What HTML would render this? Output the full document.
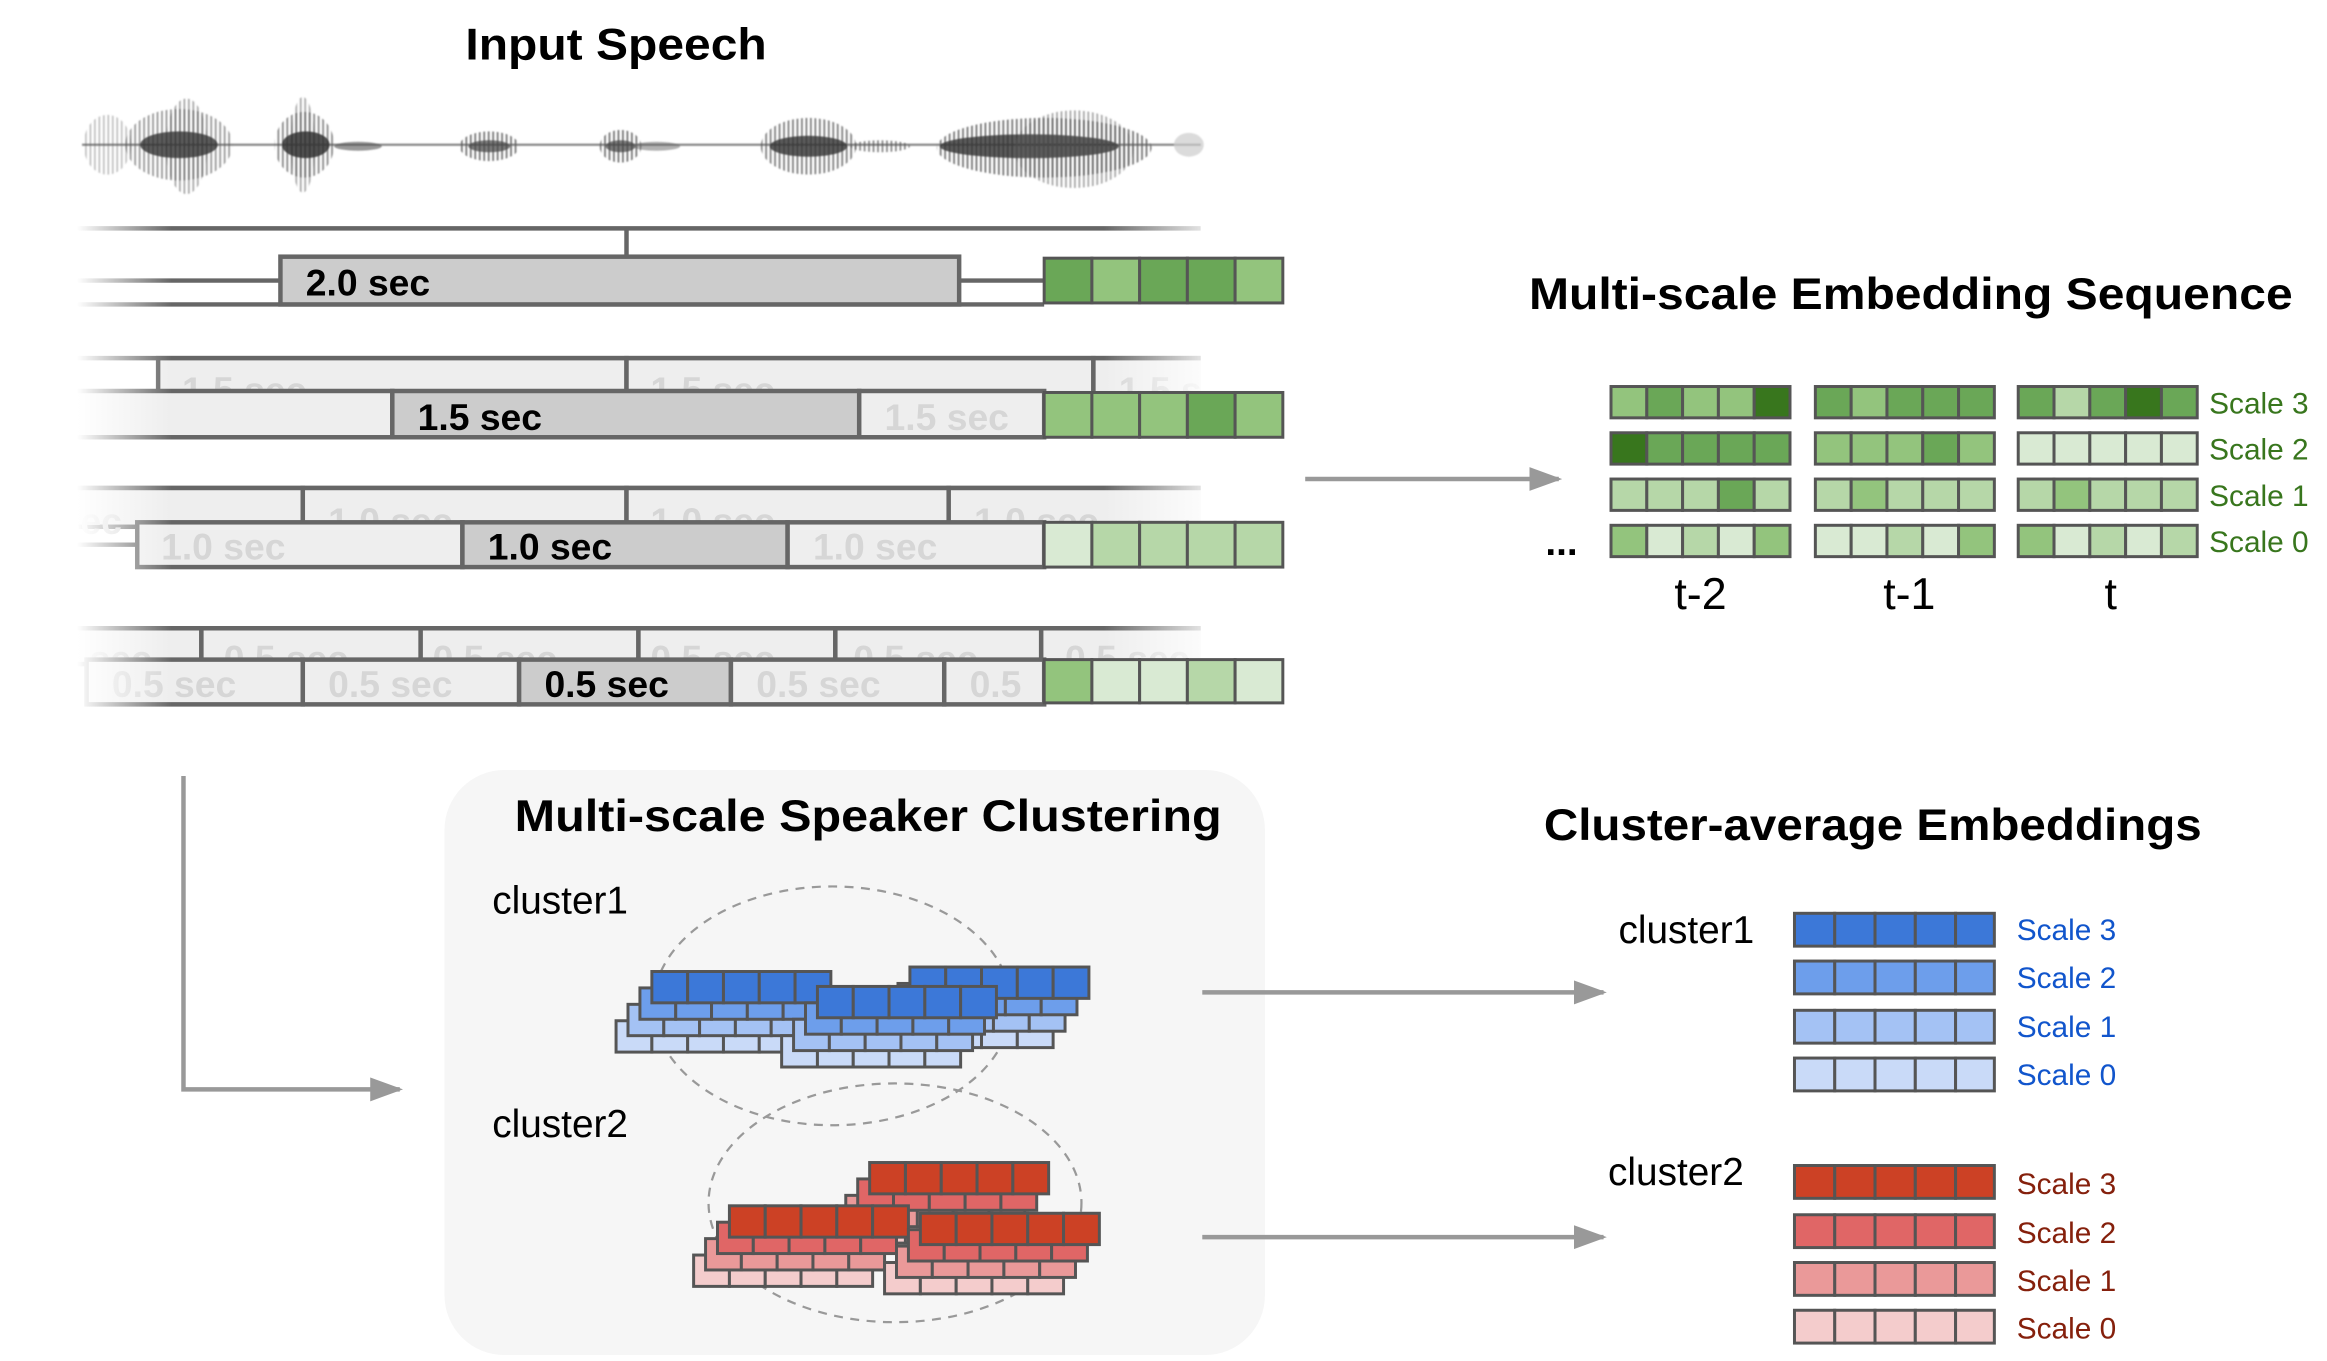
<!DOCTYPE html>
<html><head><meta charset="utf-8"><style>
html,body{margin:0;padding:0;background:#fff;}
svg{display:block;}
text{font-family:"Liberation Sans",sans-serif;}
.t{font-weight:bold;font-size:30px;fill:#000;}
.sec{font-weight:bold;font-size:25px;fill:#000;}
.fs{font-weight:bold;font-size:25px;fill:#d6d6d6;}
.c rect{stroke:#555;stroke-width:2;}
.sg{font-size:20px;fill:#38761d;}
.sb{font-size:20px;fill:#1155cc;}
.sr{font-size:20px;fill:#85200c;}
.lb{font-size:26px;fill:#000;}
</style></head><body>
<svg width="2327" height="1361" viewBox="0 0 1560 912" preserveAspectRatio="none" xmlns="http://www.w3.org/2000/svg">
<defs>
<filter id="bl" x="-10%" y="-50%" width="120%" height="200%"><feGaussianBlur stdDeviation="0.6"/></filter>
<pattern id="vl" width="3" height="10" patternUnits="userSpaceOnUse"><rect x="0" y="0" width="1.2" height="10" fill="#555"/></pattern>
<linearGradient id="fl" x1="0" x2="1" y1="0" y2="0"><stop offset="0" stop-color="#fff" stop-opacity="1"/><stop offset="0.45" stop-color="#fff" stop-opacity="1"/><stop offset="1" stop-color="#fff" stop-opacity="0"/></linearGradient>
<linearGradient id="fr" x1="0" x2="1" y1="0" y2="0"><stop offset="0" stop-color="#fff" stop-opacity="0"/><stop offset="1" stop-color="#fff" stop-opacity="1"/></linearGradient>
<marker id="ah2" viewBox="0 0 10 10" markerWidth="22" markerHeight="16" refX="9" refY="5" orient="auto" markerUnits="userSpaceOnUse" preserveAspectRatio="none"><path d="M0,0 L10,5 L0,10 z" fill="#999"/></marker>
</defs>

<text class="t" x="413" y="40" text-anchor="middle" textLength="202" lengthAdjust="spacingAndGlyphs">Input Speech</text>

<!-- waveform -->
<g filter="url(#bl)">
<line x1="55" y1="97" x2="805" y2="97" stroke="#888" stroke-width="1.5"/>
<ellipse cx="72" cy="97" rx="16" ry="20" fill="url(#vl)" opacity=".35"/>
<ellipse cx="120" cy="97" rx="36" ry="24" fill="url(#vl)" opacity=".6"/>
<ellipse cx="125" cy="98" rx="14" ry="32" fill="url(#vl)" opacity=".5"/>
<ellipse cx="120" cy="97" rx="26" ry="9" fill="#333" opacity=".8"/>
<ellipse cx="204" cy="97" rx="20" ry="22" fill="url(#vl)" opacity=".7"/>
<ellipse cx="203" cy="97" rx="8" ry="32" fill="url(#vl)" opacity=".5"/>
<ellipse cx="205" cy="97" rx="16" ry="9" fill="#333" opacity=".85"/>
<ellipse cx="240" cy="98" rx="16" ry="3" fill="#555" opacity=".6"/>
<ellipse cx="328" cy="98" rx="20" ry="10" fill="url(#vl)" opacity=".8"/>
<ellipse cx="328" cy="98" rx="14" ry="4" fill="#444" opacity=".7"/>
<ellipse cx="416" cy="98" rx="14" ry="11" fill="url(#vl)" opacity=".8"/>
<ellipse cx="416" cy="98" rx="10" ry="4" fill="#444" opacity=".7"/>
<ellipse cx="440" cy="98" rx="16" ry="3" fill="#666" opacity=".5"/>
<ellipse cx="542" cy="98" rx="32" ry="19" fill="url(#vl)" opacity=".75"/>
<ellipse cx="542" cy="98" rx="26" ry="7" fill="#333" opacity=".8"/>
<ellipse cx="590" cy="98" rx="20" ry="4" fill="url(#vl)" opacity=".7"/>
<ellipse cx="700" cy="99" rx="72" ry="20" fill="url(#vl)" opacity=".8"/>
<ellipse cx="690" cy="98" rx="60" ry="8" fill="#333" opacity=".8"/>
<ellipse cx="720" cy="100" rx="40" ry="26" fill="url(#vl)" opacity=".5"/>
<ellipse cx="797" cy="97" rx="10" ry="8" fill="#ccc" opacity=".7"/>
</g>

<!-- Row 2.0 -->
<g stroke="#666" stroke-width="3" fill="none">
<line x1="52" y1="153" x2="805" y2="153"/>
<line x1="420" y1="153" x2="420" y2="172"/>
<line x1="52" y1="188" x2="188" y2="188"/>
<line x1="643" y1="188" x2="700" y2="188"/>
<line x1="52" y1="204" x2="700" y2="204"/>
</g>
<rect x="188" y="172" width="455" height="32" fill="#ccc" stroke="#666" stroke-width="3"/>
<text class="sec" x="205" y="198">2.0 sec</text>

<!-- Row 1.5 -->
<g stroke="#666" stroke-width="3">
<line x1="52" y1="240" x2="805" y2="240"/>
<rect x="106" y="240" width="314" height="24" fill="#eee"/>
<rect x="420" y="240" width="313" height="24" fill="#eee"/>
<rect x="733" y="240" width="80" height="24" fill="#eee"/>
</g>
<text class="fs" x="122" y="270">1.5 sec</text><text class="fs" x="436" y="270">1.5 sec</text><text class="fs" x="750" y="270">1.5 sec</text>
<g stroke="#666" stroke-width="3">
<rect x="0" y="262" width="263" height="31" fill="#eee"/>
<rect x="263" y="262" width="313" height="31" fill="#ccc"/>
<rect x="576" y="262" width="124" height="31" fill="#eee"/>
</g>
<text class="sec" x="280" y="288">1.5 sec</text><text class="fs" x="593" y="288">1.5 sec</text>

<!-- Row 1.0 -->
<g stroke="#666" stroke-width="3">
<line x1="52" y1="327" x2="805" y2="327"/>
<rect x="0" y="327" width="203" height="26" fill="#eee"/>
<rect x="203" y="327" width="217" height="26" fill="#eee"/>
<rect x="420" y="327" width="216" height="26" fill="#eee"/>
<rect x="636" y="327" width="180" height="26" fill="#eee"/>
</g>
<text class="fs" x="40" y="358">sec</text><text class="fs" x="220" y="358">1.0 sec</text><text class="fs" x="436" y="358">1.0 sec</text><text class="fs" x="653" y="358">1.0 sec</text>
<line x1="0" y1="365" x2="92" y2="365" stroke="#666" stroke-width="3"/>
<g stroke="#666" stroke-width="3">
<rect x="92" y="350" width="218" height="30" fill="#eee"/>
<rect x="310" y="350" width="218" height="30" fill="#ccc"/>
<rect x="528" y="350" width="172" height="30" fill="#eee"/>
</g>
<text class="fs" x="108" y="375">1.0 sec</text><text class="sec" x="327" y="375">1.0 sec</text><text class="fs" x="545" y="375">1.0 sec</text>

<!-- Row 0.5 -->
<g stroke="#666" stroke-width="3">
<line x1="52" y1="421" x2="805" y2="421"/>
<rect x="0" y="421" width="135" height="24" fill="#eee"/>
<rect x="135" y="421" width="147" height="24" fill="#eee"/>
<rect x="282" y="421" width="146" height="24" fill="#eee"/>
<rect x="428" y="421" width="132" height="24" fill="#eee"/>
<rect x="560" y="421" width="138" height="24" fill="#eee"/>
<rect x="698" y="421" width="118" height="24" fill="#eee"/>
</g>
<text class="fs" x="60" y="450">sec</text><text class="fs" x="150" y="450">0.5 sec</text><text class="fs" x="290" y="450">0.5 sec</text><text class="fs" x="436" y="450">0.5 sec</text><text class="fs" x="572" y="450">0.5 sec</text><text class="fs" x="714" y="450">0.5 sec</text>
<g stroke="#666" stroke-width="3">
<rect x="58" y="442" width="145" height="30" fill="#eee"/>
<rect x="203" y="442" width="145" height="30" fill="#eee"/>
<rect x="348" y="442" width="142" height="30" fill="#ccc"/>
<rect x="490" y="442" width="143" height="30" fill="#eee"/>
<rect x="633" y="442" width="67" height="30" fill="#eee"/>
</g>
<text class="fs" x="75" y="467">0.5 sec</text><text class="fs" x="220" y="467">0.5 sec</text><text class="sec" x="365" y="467">0.5 sec</text><text class="fs" x="507" y="467">0.5 sec</text><text class="fs" x="650" y="467">0.5</text>

<!-- fades -->
<rect x="0" y="140" width="115" height="345" fill="url(#fl)"/>
<rect x="740" y="140" width="80" height="345" fill="url(#fr)"/>
<rect x="805" y="140" width="60" height="345" fill="#fff"/>

<g class="c">
<rect x="700" y="173" width="32" height="30" fill="#6aa757"/><rect x="732" y="173" width="32" height="30" fill="#93c47d"/><rect x="764" y="173" width="32" height="30" fill="#6aa757"/><rect x="796" y="173" width="32" height="30" fill="#6aa757"/><rect x="828" y="173" width="32" height="30" fill="#93c47d"/>
<rect x="700" y="263" width="32" height="30" fill="#93c47d"/><rect x="732" y="263" width="32" height="30" fill="#93c47d"/><rect x="764" y="263" width="32" height="30" fill="#93c47d"/><rect x="796" y="263" width="32" height="30" fill="#6aa757"/><rect x="828" y="263" width="32" height="30" fill="#93c47d"/>
<rect x="700" y="350" width="32" height="30" fill="#d9ead3"/><rect x="732" y="350" width="32" height="30" fill="#b6d7a8"/><rect x="764" y="350" width="32" height="30" fill="#b6d7a8"/><rect x="796" y="350" width="32" height="30" fill="#b6d7a8"/><rect x="828" y="350" width="32" height="30" fill="#b6d7a8"/>
<rect x="700" y="442" width="32" height="29" fill="#93c47d"/><rect x="732" y="442" width="32" height="29" fill="#d9ead3"/><rect x="764" y="442" width="32" height="29" fill="#d9ead3"/><rect x="796" y="442" width="32" height="29" fill="#b6d7a8"/><rect x="828" y="442" width="32" height="29" fill="#d9ead3"/>
</g>

<line x1="875" y1="321" x2="1045" y2="321" stroke="#999" stroke-width="3" marker-end="url(#ah2)"/>

<text class="t" x="1025" y="207" textLength="512" lengthAdjust="spacingAndGlyphs">Multi-scale Embedding Sequence</text>

<g class="c">
<rect x="1080" y="259" width="24" height="21" fill="#93c47d"/><rect x="1104" y="259" width="24" height="21" fill="#6aa757"/><rect x="1128" y="259" width="24" height="21" fill="#93c47d"/><rect x="1152" y="259" width="24" height="21" fill="#93c47d"/><rect x="1176" y="259" width="24" height="21" fill="#38761d"/>
<rect x="1080" y="290" width="24" height="21" fill="#38761d"/><rect x="1104" y="290" width="24" height="21" fill="#6aa757"/><rect x="1128" y="290" width="24" height="21" fill="#6aa757"/><rect x="1152" y="290" width="24" height="21" fill="#6aa757"/><rect x="1176" y="290" width="24" height="21" fill="#6aa757"/>
<rect x="1080" y="321" width="24" height="21" fill="#b6d7a8"/><rect x="1104" y="321" width="24" height="21" fill="#b6d7a8"/><rect x="1128" y="321" width="24" height="21" fill="#b6d7a8"/><rect x="1152" y="321" width="24" height="21" fill="#6aa757"/><rect x="1176" y="321" width="24" height="21" fill="#b6d7a8"/>
<rect x="1080" y="352" width="24" height="21" fill="#93c47d"/><rect x="1104" y="352" width="24" height="21" fill="#d9ead3"/><rect x="1128" y="352" width="24" height="21" fill="#b6d7a8"/><rect x="1152" y="352" width="24" height="21" fill="#d9ead3"/><rect x="1176" y="352" width="24" height="21" fill="#93c47d"/>
<rect x="1217" y="259" width="24" height="21" fill="#6aa757"/><rect x="1241" y="259" width="24" height="21" fill="#93c47d"/><rect x="1265" y="259" width="24" height="21" fill="#6aa757"/><rect x="1289" y="259" width="24" height="21" fill="#6aa757"/><rect x="1313" y="259" width="24" height="21" fill="#6aa757"/>
<rect x="1217" y="290" width="24" height="21" fill="#93c47d"/><rect x="1241" y="290" width="24" height="21" fill="#93c47d"/><rect x="1265" y="290" width="24" height="21" fill="#93c47d"/><rect x="1289" y="290" width="24" height="21" fill="#6aa757"/><rect x="1313" y="290" width="24" height="21" fill="#93c47d"/>
<rect x="1217" y="321" width="24" height="21" fill="#b6d7a8"/><rect x="1241" y="321" width="24" height="21" fill="#93c47d"/><rect x="1265" y="321" width="24" height="21" fill="#b6d7a8"/><rect x="1289" y="321" width="24" height="21" fill="#b6d7a8"/><rect x="1313" y="321" width="24" height="21" fill="#b6d7a8"/>
<rect x="1217" y="352" width="24" height="21" fill="#d9ead3"/><rect x="1241" y="352" width="24" height="21" fill="#d9ead3"/><rect x="1265" y="352" width="24" height="21" fill="#b6d7a8"/><rect x="1289" y="352" width="24" height="21" fill="#d9ead3"/><rect x="1313" y="352" width="24" height="21" fill="#93c47d"/>
<rect x="1353" y="259" width="24" height="21" fill="#6aa757"/><rect x="1377" y="259" width="24" height="21" fill="#b6d7a8"/><rect x="1401" y="259" width="24" height="21" fill="#6aa757"/><rect x="1425" y="259" width="24" height="21" fill="#38761d"/><rect x="1449" y="259" width="24" height="21" fill="#6aa757"/>
<rect x="1353" y="290" width="24" height="21" fill="#d9ead3"/><rect x="1377" y="290" width="24" height="21" fill="#d9ead3"/><rect x="1401" y="290" width="24" height="21" fill="#d9ead3"/><rect x="1425" y="290" width="24" height="21" fill="#d9ead3"/><rect x="1449" y="290" width="24" height="21" fill="#d9ead3"/>
<rect x="1353" y="321" width="24" height="21" fill="#b6d7a8"/><rect x="1377" y="321" width="24" height="21" fill="#93c47d"/><rect x="1401" y="321" width="24" height="21" fill="#b6d7a8"/><rect x="1425" y="321" width="24" height="21" fill="#b6d7a8"/><rect x="1449" y="321" width="24" height="21" fill="#b6d7a8"/>
<rect x="1353" y="352" width="24" height="21" fill="#93c47d"/><rect x="1377" y="352" width="24" height="21" fill="#d9ead3"/><rect x="1401" y="352" width="24" height="21" fill="#b6d7a8"/><rect x="1425" y="352" width="24" height="21" fill="#d9ead3"/><rect x="1449" y="352" width="24" height="21" fill="#b6d7a8"/>
</g>
<text class="sg" x="1481" y="277">Scale 3</text><text class="sg" x="1481" y="308">Scale 2</text><text class="sg" x="1481" y="339">Scale 1</text><text class="sg" x="1481" y="370">Scale 0</text>
<text x="1036" y="372" font-size="26" font-weight="bold">...</text>
<text x="1140" y="408" font-size="30" text-anchor="middle">t-2</text>
<text x="1280" y="408" font-size="30" text-anchor="middle">t-1</text>
<text x="1415" y="408" font-size="30" text-anchor="middle">t</text>

<polyline points="123,520 123,730 268,730" fill="none" stroke="#999" stroke-width="3" marker-end="url(#ah2)"/>

<rect x="298" y="516" width="550" height="392" rx="40" fill="#f6f6f6"/>
<text class="t" x="582" y="557" text-anchor="middle" textLength="474" lengthAdjust="spacingAndGlyphs">Multi-scale Speaker Clustering</text>
<text class="lb" x="330" y="612">cluster1</text>
<text class="lb" x="330" y="762">cluster2</text>
<ellipse cx="558" cy="674" rx="120" ry="80" fill="none" stroke="#999" stroke-width="1.5" stroke-dasharray="6,5"/>
<ellipse cx="600" cy="806" rx="125" ry="80" fill="none" stroke="#999" stroke-width="1.5" stroke-dasharray="6,5"/>

<g class="c">
<g transform="translate(413,684)"><rect width="24" height="21" fill="#c9daf8"/><rect x="24" width="24" height="21" fill="#c9daf8"/><rect x="48" width="24" height="21" fill="#c9daf8"/><rect x="72" width="24" height="21" fill="#c9daf8"/><rect x="96" width="24" height="21" fill="#c9daf8"/></g>
<g transform="translate(421,673)"><rect width="24" height="21" fill="#a4c2f4"/><rect x="24" width="24" height="21" fill="#a4c2f4"/><rect x="48" width="24" height="21" fill="#a4c2f4"/><rect x="72" width="24" height="21" fill="#a4c2f4"/><rect x="96" width="24" height="21" fill="#a4c2f4"/></g>
<g transform="translate(429,662)"><rect width="24" height="21" fill="#6d9eeb"/><rect x="24" width="24" height="21" fill="#6d9eeb"/><rect x="48" width="24" height="21" fill="#6d9eeb"/><rect x="72" width="24" height="21" fill="#6d9eeb"/><rect x="96" width="24" height="21" fill="#6d9eeb"/></g>
<g transform="translate(437,651)"><rect width="24" height="21" fill="#3c78d8"/><rect x="24" width="24" height="21" fill="#3c78d8"/><rect x="48" width="24" height="21" fill="#3c78d8"/><rect x="72" width="24" height="21" fill="#3c78d8"/><rect x="96" width="24" height="21" fill="#3c78d8"/></g>
<g transform="translate(586,681)"><rect width="24" height="21" fill="#c9daf8"/><rect x="24" width="24" height="21" fill="#c9daf8"/><rect x="48" width="24" height="21" fill="#c9daf8"/><rect x="72" width="24" height="21" fill="#c9daf8"/><rect x="96" width="24" height="21" fill="#c9daf8"/></g>
<g transform="translate(594,670)"><rect width="24" height="21" fill="#a4c2f4"/><rect x="24" width="24" height="21" fill="#a4c2f4"/><rect x="48" width="24" height="21" fill="#a4c2f4"/><rect x="72" width="24" height="21" fill="#a4c2f4"/><rect x="96" width="24" height="21" fill="#a4c2f4"/></g>
<g transform="translate(602,659)"><rect width="24" height="21" fill="#6d9eeb"/><rect x="24" width="24" height="21" fill="#6d9eeb"/><rect x="48" width="24" height="21" fill="#6d9eeb"/><rect x="72" width="24" height="21" fill="#6d9eeb"/><rect x="96" width="24" height="21" fill="#6d9eeb"/></g>
<g transform="translate(610,648)"><rect width="24" height="21" fill="#3c78d8"/><rect x="24" width="24" height="21" fill="#3c78d8"/><rect x="48" width="24" height="21" fill="#3c78d8"/><rect x="72" width="24" height="21" fill="#3c78d8"/><rect x="96" width="24" height="21" fill="#3c78d8"/></g>
<g transform="translate(524,694)"><rect width="24" height="21" fill="#c9daf8"/><rect x="24" width="24" height="21" fill="#c9daf8"/><rect x="48" width="24" height="21" fill="#c9daf8"/><rect x="72" width="24" height="21" fill="#c9daf8"/><rect x="96" width="24" height="21" fill="#c9daf8"/></g>
<g transform="translate(532,683)"><rect width="24" height="21" fill="#a4c2f4"/><rect x="24" width="24" height="21" fill="#a4c2f4"/><rect x="48" width="24" height="21" fill="#a4c2f4"/><rect x="72" width="24" height="21" fill="#a4c2f4"/><rect x="96" width="24" height="21" fill="#a4c2f4"/></g>
<g transform="translate(540,672)"><rect width="24" height="21" fill="#6d9eeb"/><rect x="24" width="24" height="21" fill="#6d9eeb"/><rect x="48" width="24" height="21" fill="#6d9eeb"/><rect x="72" width="24" height="21" fill="#6d9eeb"/><rect x="96" width="24" height="21" fill="#6d9eeb"/></g>
<g transform="translate(548,661)"><rect width="24" height="21" fill="#3c78d8"/><rect x="24" width="24" height="21" fill="#3c78d8"/><rect x="48" width="24" height="21" fill="#3c78d8"/><rect x="72" width="24" height="21" fill="#3c78d8"/><rect x="96" width="24" height="21" fill="#3c78d8"/></g>
<g transform="translate(559,812)"><rect width="24" height="21" fill="#f4cccc"/><rect x="24" width="24" height="21" fill="#f4cccc"/><rect x="48" width="24" height="21" fill="#f4cccc"/><rect x="72" width="24" height="21" fill="#f4cccc"/><rect x="96" width="24" height="21" fill="#f4cccc"/></g>
<g transform="translate(567,801)"><rect width="24" height="21" fill="#ea9999"/><rect x="24" width="24" height="21" fill="#ea9999"/><rect x="48" width="24" height="21" fill="#ea9999"/><rect x="72" width="24" height="21" fill="#ea9999"/><rect x="96" width="24" height="21" fill="#ea9999"/></g>
<g transform="translate(575,790)"><rect width="24" height="21" fill="#e06666"/><rect x="24" width="24" height="21" fill="#e06666"/><rect x="48" width="24" height="21" fill="#e06666"/><rect x="72" width="24" height="21" fill="#e06666"/><rect x="96" width="24" height="21" fill="#e06666"/></g>
<g transform="translate(583,779)"><rect width="24" height="21" fill="#cc4125"/><rect x="24" width="24" height="21" fill="#cc4125"/><rect x="48" width="24" height="21" fill="#cc4125"/><rect x="72" width="24" height="21" fill="#cc4125"/><rect x="96" width="24" height="21" fill="#cc4125"/></g>
<g transform="translate(465,841)"><rect width="24" height="21" fill="#f4cccc"/><rect x="24" width="24" height="21" fill="#f4cccc"/><rect x="48" width="24" height="21" fill="#f4cccc"/><rect x="72" width="24" height="21" fill="#f4cccc"/><rect x="96" width="24" height="21" fill="#f4cccc"/></g>
<g transform="translate(473,830)"><rect width="24" height="21" fill="#ea9999"/><rect x="24" width="24" height="21" fill="#ea9999"/><rect x="48" width="24" height="21" fill="#ea9999"/><rect x="72" width="24" height="21" fill="#ea9999"/><rect x="96" width="24" height="21" fill="#ea9999"/></g>
<g transform="translate(481,819)"><rect width="24" height="21" fill="#e06666"/><rect x="24" width="24" height="21" fill="#e06666"/><rect x="48" width="24" height="21" fill="#e06666"/><rect x="72" width="24" height="21" fill="#e06666"/><rect x="96" width="24" height="21" fill="#e06666"/></g>
<g transform="translate(489,808)"><rect width="24" height="21" fill="#cc4125"/><rect x="24" width="24" height="21" fill="#cc4125"/><rect x="48" width="24" height="21" fill="#cc4125"/><rect x="72" width="24" height="21" fill="#cc4125"/><rect x="96" width="24" height="21" fill="#cc4125"/></g>
<g transform="translate(593,846)"><rect width="24" height="21" fill="#f4cccc"/><rect x="24" width="24" height="21" fill="#f4cccc"/><rect x="48" width="24" height="21" fill="#f4cccc"/><rect x="72" width="24" height="21" fill="#f4cccc"/><rect x="96" width="24" height="21" fill="#f4cccc"/></g>
<g transform="translate(601,835)"><rect width="24" height="21" fill="#ea9999"/><rect x="24" width="24" height="21" fill="#ea9999"/><rect x="48" width="24" height="21" fill="#ea9999"/><rect x="72" width="24" height="21" fill="#ea9999"/><rect x="96" width="24" height="21" fill="#ea9999"/></g>
<g transform="translate(609,824)"><rect width="24" height="21" fill="#e06666"/><rect x="24" width="24" height="21" fill="#e06666"/><rect x="48" width="24" height="21" fill="#e06666"/><rect x="72" width="24" height="21" fill="#e06666"/><rect x="96" width="24" height="21" fill="#e06666"/></g>
<g transform="translate(617,813)"><rect width="24" height="21" fill="#cc4125"/><rect x="24" width="24" height="21" fill="#cc4125"/><rect x="48" width="24" height="21" fill="#cc4125"/><rect x="72" width="24" height="21" fill="#cc4125"/><rect x="96" width="24" height="21" fill="#cc4125"/></g>
</g>

<line x1="806" y1="665" x2="1075" y2="665" stroke="#999" stroke-width="3" marker-end="url(#ah2)"/>
<line x1="806" y1="829" x2="1075" y2="829" stroke="#999" stroke-width="3" marker-end="url(#ah2)"/>

<text class="t" x="1035" y="563" textLength="441" lengthAdjust="spacingAndGlyphs">Cluster-average Embeddings</text>
<text class="lb" x="1085" y="632">cluster1</text>
<text class="lb" x="1078" y="794">cluster2</text>

<g class="c">
<g transform="translate(1203,612)"><rect width="27" height="22" fill="#3c78d8"/><rect x="27" width="27" height="22" fill="#3c78d8"/><rect x="54" width="27" height="22" fill="#3c78d8"/><rect x="81" width="27" height="22" fill="#3c78d8"/><rect x="108" width="26" height="22" fill="#3c78d8"/></g>
<g transform="translate(1203,644)"><rect width="27" height="22" fill="#6d9eeb"/><rect x="27" width="27" height="22" fill="#6d9eeb"/><rect x="54" width="27" height="22" fill="#6d9eeb"/><rect x="81" width="27" height="22" fill="#6d9eeb"/><rect x="108" width="26" height="22" fill="#6d9eeb"/></g>
<g transform="translate(1203,677)"><rect width="27" height="22" fill="#a4c2f4"/><rect x="27" width="27" height="22" fill="#a4c2f4"/><rect x="54" width="27" height="22" fill="#a4c2f4"/><rect x="81" width="27" height="22" fill="#a4c2f4"/><rect x="108" width="26" height="22" fill="#a4c2f4"/></g>
<g transform="translate(1203,709)"><rect width="27" height="22" fill="#c9daf8"/><rect x="27" width="27" height="22" fill="#c9daf8"/><rect x="54" width="27" height="22" fill="#c9daf8"/><rect x="81" width="27" height="22" fill="#c9daf8"/><rect x="108" width="26" height="22" fill="#c9daf8"/></g>
<g transform="translate(1203,781)"><rect width="27" height="22" fill="#cc4125"/><rect x="27" width="27" height="22" fill="#cc4125"/><rect x="54" width="27" height="22" fill="#cc4125"/><rect x="81" width="27" height="22" fill="#cc4125"/><rect x="108" width="26" height="22" fill="#cc4125"/></g>
<g transform="translate(1203,814)"><rect width="27" height="22" fill="#e06666"/><rect x="27" width="27" height="22" fill="#e06666"/><rect x="54" width="27" height="22" fill="#e06666"/><rect x="81" width="27" height="22" fill="#e06666"/><rect x="108" width="26" height="22" fill="#e06666"/></g>
<g transform="translate(1203,846)"><rect width="27" height="22" fill="#ea9999"/><rect x="27" width="27" height="22" fill="#ea9999"/><rect x="54" width="27" height="22" fill="#ea9999"/><rect x="81" width="27" height="22" fill="#ea9999"/><rect x="108" width="26" height="22" fill="#ea9999"/></g>
<g transform="translate(1203,878)"><rect width="27" height="22" fill="#f4cccc"/><rect x="27" width="27" height="22" fill="#f4cccc"/><rect x="54" width="27" height="22" fill="#f4cccc"/><rect x="81" width="27" height="22" fill="#f4cccc"/><rect x="108" width="26" height="22" fill="#f4cccc"/></g>
</g>
<text class="sb" x="1352" y="630">Scale 3</text><text class="sb" x="1352" y="662">Scale 2</text><text class="sb" x="1352" y="695">Scale 1</text><text class="sb" x="1352" y="727">Scale 0</text>
<text class="sr" x="1352" y="800">Scale 3</text><text class="sr" x="1352" y="833">Scale 2</text><text class="sr" x="1352" y="865">Scale 1</text><text class="sr" x="1352" y="897">Scale 0</text>
</svg>
</body></html>
